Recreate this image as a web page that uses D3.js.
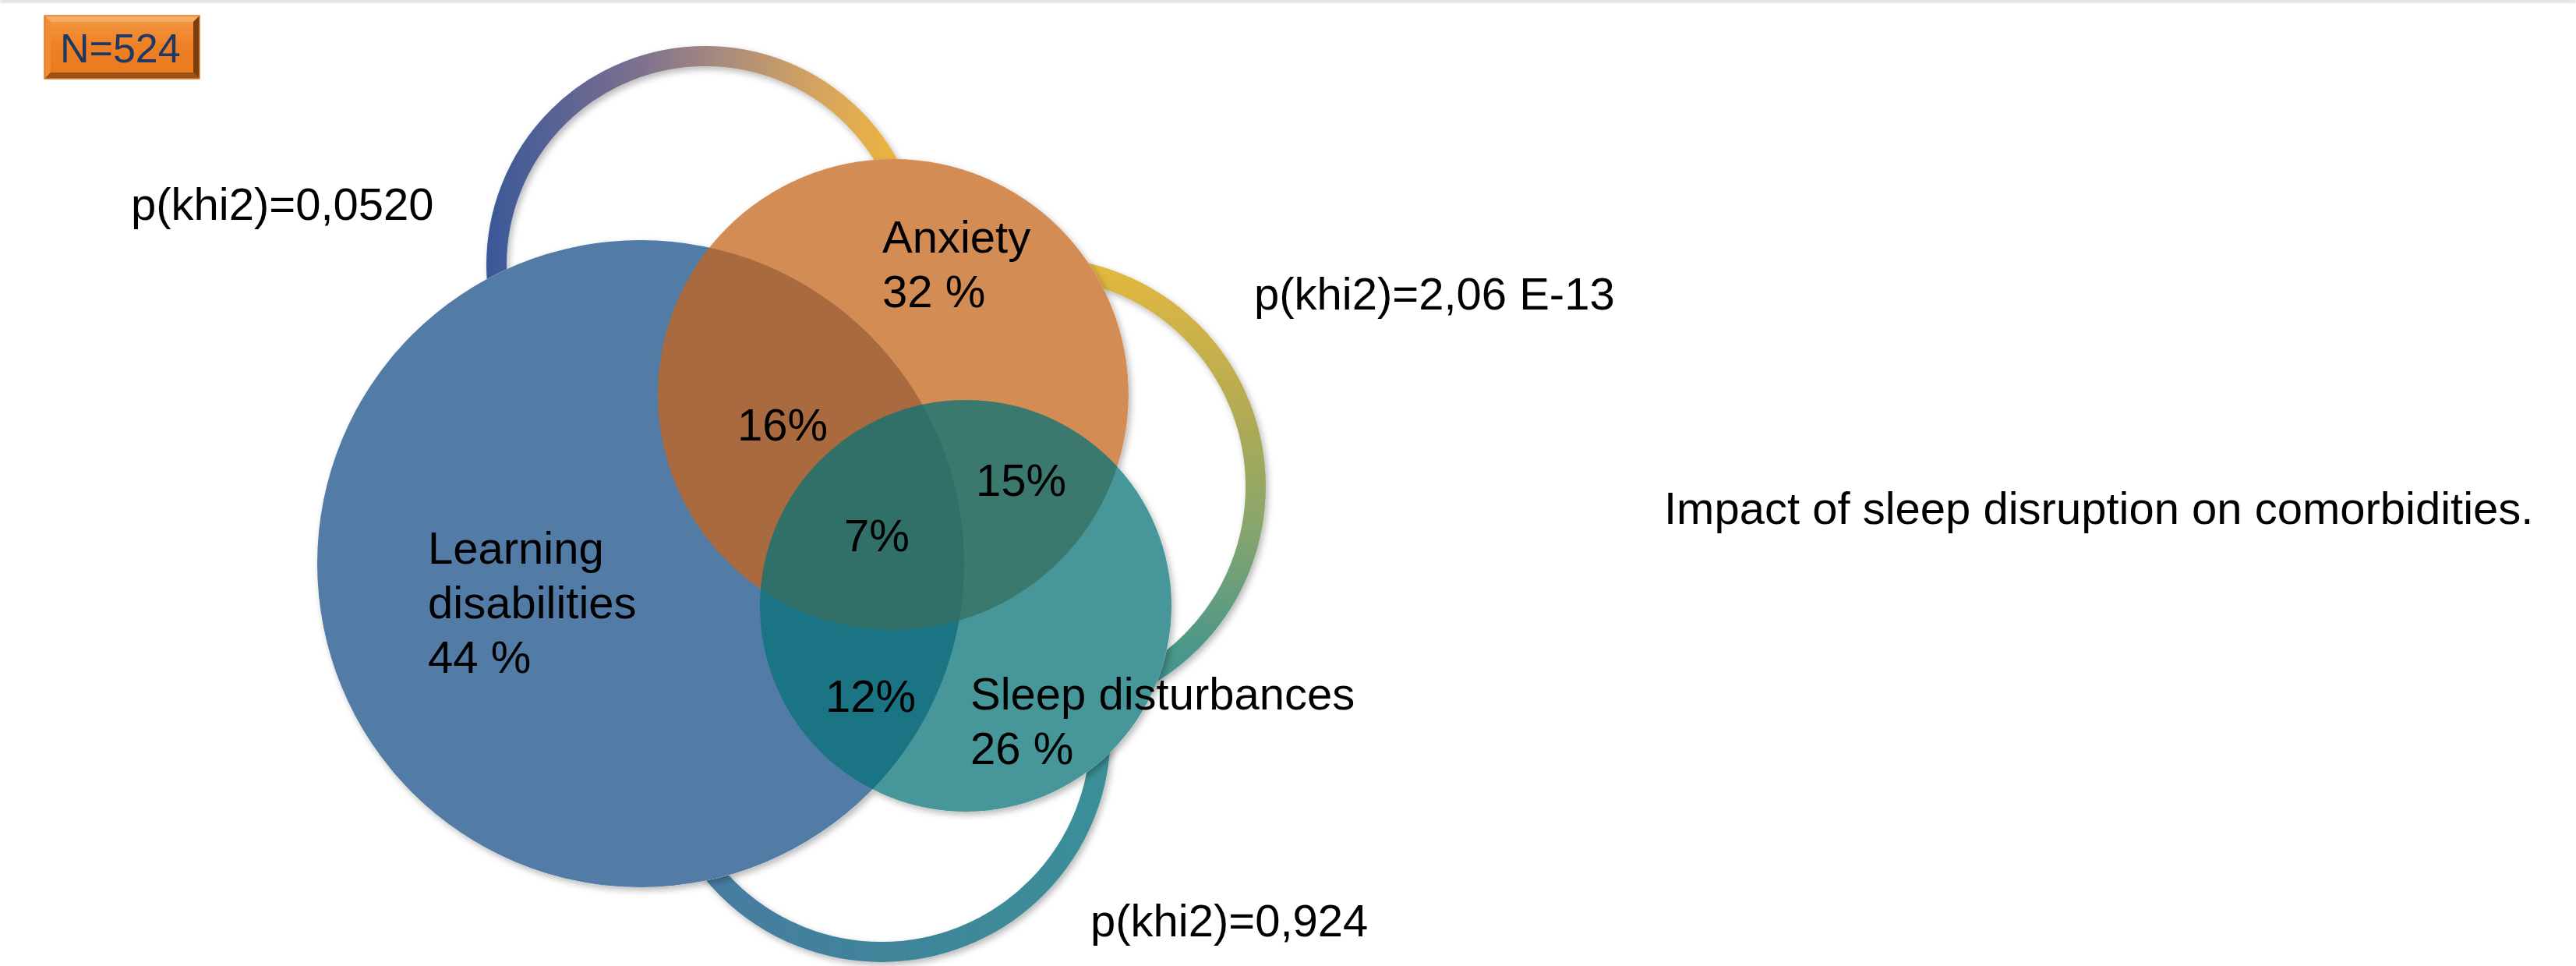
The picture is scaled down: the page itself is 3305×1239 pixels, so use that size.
<!DOCTYPE html>
<html>
<head>
<meta charset="utf-8">
<script src="https://cdn.jsdelivr.net/npm/d3@7/dist/d3.min.js"></script>
<style>
  html, body { margin: 0; padding: 0; background: #ffffff; }
  svg { display: block; }
  text { font-family: "Liberation Sans", Arial, Helvetica, sans-serif; }
</style>
</head>
<body>
<svg id="chart" width="3305" height="1239"></svg>
<script>
// ---- data ----
const sampleSize = 524;
const sets = ["Learning disabilities", "Anxiety", "Sleep disturbances"];
const setLabelLines = [["Learning", "disabilities"], ["Anxiety"], ["Sleep disturbances"]];
const setShares = [44, 32, 26];
const overlapKeys = ["LD+A", "LD+SD", "A+SD", "LD+A+SD"];
const overlapShares = [16, 12, 15, 7];
const pairTests = ["p(khi2)=0,0520", "p(khi2)=2,06 E-13", "p(khi2)=0,924"];
const caption = "Impact of sleep disruption on comorbidities.";

// ---- layout (pixels) ----
const W = 3305, H = 1239;
const FONT = 58;
const circleLayout = [
  { cx: 822,  cy: 723, r: 415, label: { x: 549,  y: 723 } },
  { cx: 1146, cy: 506, r: 302, label: { x: 1132, y: 324 } },
  { cx: 1239, cy: 777, r: 264, label: { x: 1245, y: 910 } }
];
const circleFill = ["rgb(82,123,166)", "rgb(197,101,27)", "rgb(7,114,120)"];
const circleAlpha = [1, 0.746, 0.746];
const overlapLabelPos = [
  { x: 946,  y: 565 },
  { x: 1059, y: 913 },
  { x: 1252, y: 636 },
  { x: 1083, y: 707 }
];
// connector rings between each pair of sets
const ringLayout = [
  { cx: 905,  cy: 340, r: 268, grad: "ringTop",    text: { x: 168,  y: 282 } },
  { cx: 1330, cy: 624, r: 281, grad: "ringRight",  text: { x: 1609, y: 397 } },
  { cx: 1131, cy: 940, r: 281, grad: "ringBottom", text: { x: 1399, y: 1201 } }
];
const ringWidth = 26;
const lineGap = 70;

const svg = d3.select("#chart");
const defs = svg.append("defs");

// gradients for the rings
function linearGrad(id, x1, y1, x2, y2, stops) {
  const g = defs.append("linearGradient").attr("id", id)
    .attr("gradientUnits", "userSpaceOnUse")
    .attr("x1", x1).attr("y1", y1).attr("x2", x2).attr("y2", y2);
  g.selectAll("stop").data(stops).join("stop")
    .attr("offset", d => d[0]).attr("stop-color", d => d[1]);
}
linearGrad("ringTop", 624, 0, 1160, 0,
  [[0, "#3a5899"], [0.35, "#7a6f8e"], [0.55, "#a6897f"], [0.8, "#d6a55e"], [1, "#efb63a"]]);
linearGrad("ringRight", 0, 340, 0, 910,
  [[0, "#e3b83e"], [0.35, "#b0aa55"], [0.6, "#86a56e"], [0.85, "#4e9888"], [1, "#3a9197"]]);
linearGrad("ringBottom", 860, 0, 1420, 0,
  [[0, "#4a7aa4"], [0.5, "#3f8499"], [1, "#3a8f98"]]);

// N box bevel gradient
linearGrad("boxFace", 0, 20, 0, 101, [[0, "#f39a45"], [0.5, "#ee7f24"], [1, "#e97a1e"]]);

// soft shadows
const sh = defs.append("filter").attr("id", "softShadow")
  .attr("x", "-10%").attr("y", "-10%").attr("width", "120%").attr("height", "120%");
sh.append("feDropShadow").attr("dx", 3).attr("dy", 4).attr("stdDeviation", 4)
  .attr("flood-color", "#000").attr("flood-opacity", 0.28);
const topShade = defs.append("filter").attr("id", "topShade")
  .attr("x", "0").attr("y", "-200%").attr("width", "100%").attr("height", "600%");
topShade.append("feGaussianBlur").attr("stdDeviation", 1.5);

// page edge line at the top
svg.append("rect").attr("x", 0).attr("y", 0).attr("width", W).attr("height", 3)
  .attr("fill", "#d4d4d4").attr("filter", "url(#topShade)");

// rings
svg.append("g").attr("filter", "url(#softShadow)")
  .selectAll("circle").data(ringLayout).join("circle")
  .attr("cx", d => d.cx).attr("cy", d => d.cy).attr("r", d => d.r)
  .attr("fill", "none")
  .attr("stroke", d => `url(#${d.grad})`)
  .attr("stroke-width", ringWidth);

// white base under the translucent sets (hides the rings)
svg.append("g").attr("filter", "url(#softShadow)")
  .selectAll("circle").data(circleLayout).join("circle")
  .attr("cx", d => d.cx).attr("cy", d => d.cy).attr("r", d => d.r)
  .attr("fill", "#ffffff");

// set circles
svg.append("g").selectAll("circle").data(sets).join("circle")
  .attr("cx", (d, i) => circleLayout[i].cx)
  .attr("cy", (d, i) => circleLayout[i].cy)
  .attr("r", (d, i) => circleLayout[i].r)
  .attr("fill", (d, i) => circleFill[i])
  .attr("fill-opacity", (d, i) => circleAlpha[i]);

// set labels: name lines followed by share
const setText = svg.append("g").attr("font-size", FONT).attr("fill", "#000");
sets.forEach((name, i) => {
  const lines = setLabelLines[i].concat([`${setShares[i]} %`]);
  const pos = circleLayout[i].label;
  setText.append("text")
    .attr("x", pos.x).attr("y", pos.y)
    .selectAll("tspan").data(lines).join("tspan")
    .attr("x", pos.x)
    .attr("dy", (d, j) => j === 0 ? 0 : lineGap)
    .text(d => d);
});

// overlap labels
svg.append("g").attr("font-size", FONT).attr("fill", "#000")
  .selectAll("text").data(overlapKeys).join("text")
  .attr("x", (d, i) => overlapLabelPos[i].x)
  .attr("y", (d, i) => overlapLabelPos[i].y)
  .text((d, i) => `${overlapShares[i]}%`);

// chi-square p-values next to each ring
svg.append("g").attr("font-size", FONT).attr("fill", "#000")
  .selectAll("text").data(pairTests).join("text")
  .attr("x", (d, i) => ringLayout[i].text.x)
  .attr("y", (d, i) => ringLayout[i].text.y)
  .text(d => d);

// caption
svg.append("text").attr("x", 2135).attr("y", 672)
  .attr("font-size", FONT).attr("fill", "#000").text(caption);

// sample size badge with bevelled edges
const bx = 57, by = 20, bw = 199, bh = 81, bv = 8;
const badge = svg.append("g");
badge.append("rect").attr("x", bx).attr("y", by).attr("width", bw).attr("height", bh)
  .attr("fill", "url(#boxFace)");
const bevels = [
  { pts: [[bx, by], [bx + bw, by], [bx + bw - bv, by + bv], [bx + bv, by + bv]], fill: "#f6ad62" },
  { pts: [[bx, by], [bx + bv, by + bv], [bx + bv, by + bh - bv], [bx, by + bh]], fill: "#f08c34" },
  { pts: [[bx + bw, by], [bx + bw, by + bh], [bx + bw - bv, by + bh - bv], [bx + bw - bv, by + bv]], fill: "#7a3d0e" },
  { pts: [[bx, by + bh], [bx + bv, by + bh - bv], [bx + bw - bv, by + bh - bv], [bx + bw, by + bh]], fill: "#9c5014" }
];
badge.selectAll("polygon").data(bevels).join("polygon")
  .attr("points", d => d.pts.map(p => p.join(",")).join(" "))
  .attr("fill", d => d.fill);
badge.append("rect").attr("x", bx).attr("y", by).attr("width", bw).attr("height", bh)
  .attr("fill", "none").attr("stroke", "#e07a2a").attr("stroke-width", 1.5);
badge.append("text").attr("x", 77).attr("y", 80)
  .attr("font-size", 52).attr("fill", "#1f3864").text(`N=${sampleSize}`);
</script>
</body>
</html>
